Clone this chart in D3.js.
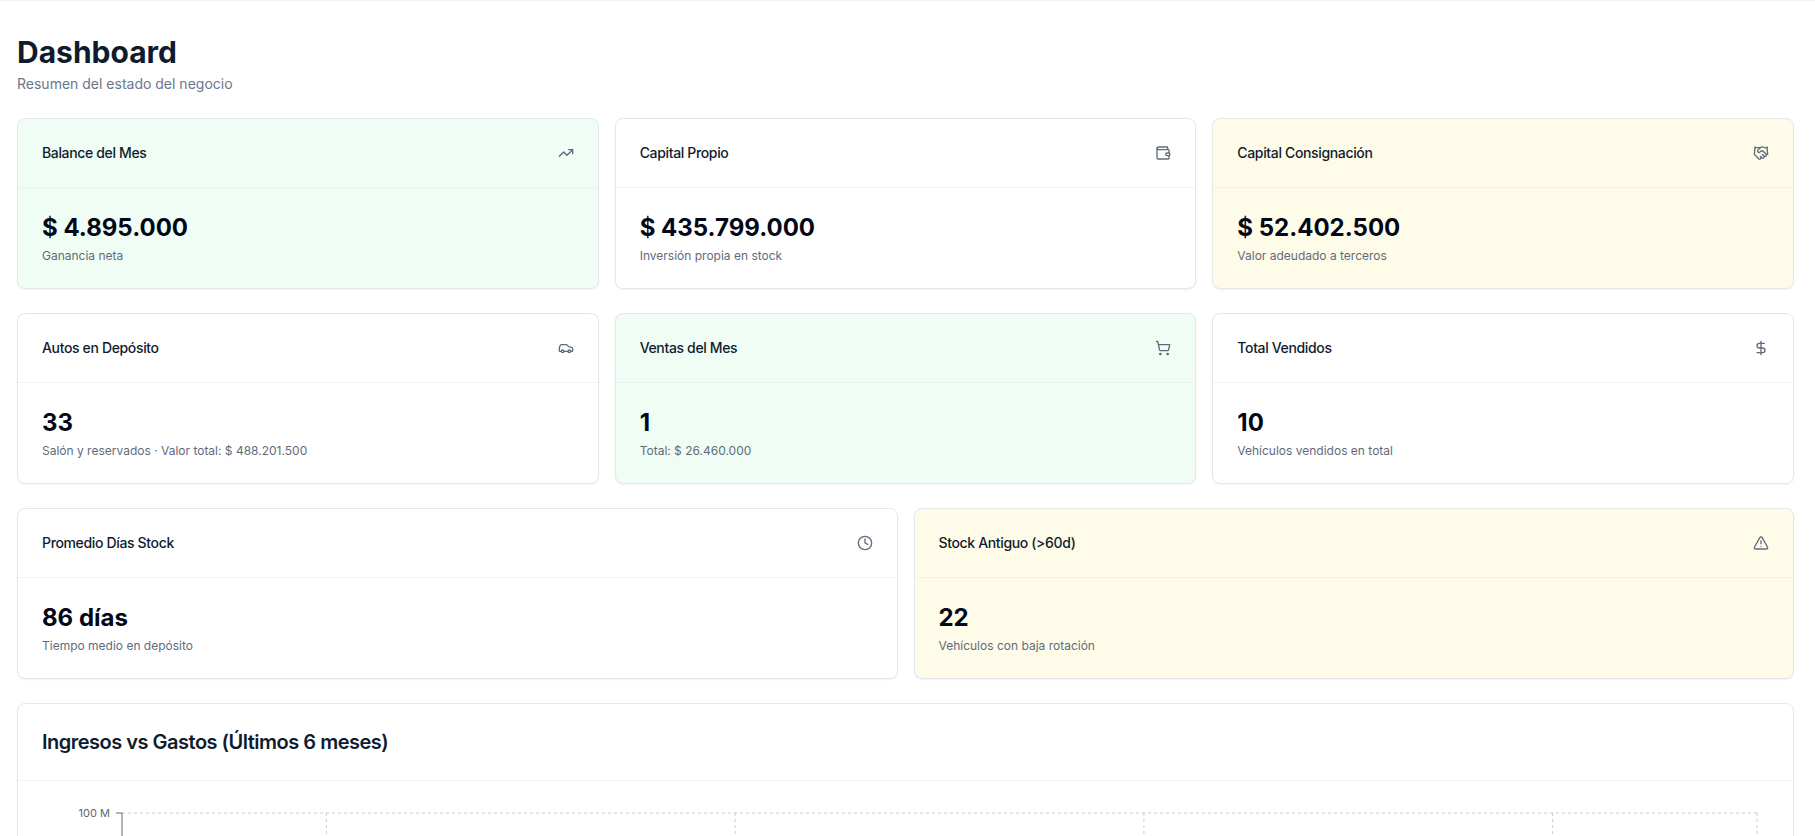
<!DOCTYPE html>
<html lang="es">
<head>
<meta charset="utf-8">
<title>Dashboard</title>
<script src="https://cdn.jsdelivr.net/npm/d3@7"></script>
<style>
  * { box-sizing: border-box; }
  html, body { margin: 0; height: 100%; overflow: hidden; background: #fff; }
  body { font-family: Inter, sans-serif; color: #0f1c2e; border-top: 1px solid #f1f3f5; }
  #page { position: absolute; left: 17px; top: 34px; width: 1777px; }
  h1 { margin: 0; font-size: 30px; line-height: 36px; font-weight: 700; }
  .lead { margin: 4px 0 0; font-size: 14px; line-height: 20px; color: #68778a; }
  .row { display: grid; gap: 16px; margin-top: 24px; }
  .card { background: #fff; border: 1px solid #e5e7eb; border-radius: 8px; box-shadow: 0 1px 2px rgba(0,0,0,.05); }
  .card.green { background: #f0fdf4; }
  .card.yellow { background: #fefce8; }
  .head { height: 69px; padding: 24px; display: flex; justify-content: space-between; align-items: center; border-bottom: 1px solid rgba(229,231,235,.5); }
  .name { font-size: 14px; line-height: 20px; font-weight: 500; letter-spacing: -0.35px; }
  .head svg { width: 16px; height: 16px; fill: none; stroke: #5f6b7c; stroke-width: 2; stroke-linecap: round; stroke-linejoin: round; }
  .body { padding: 24px; }
  .value { font-size: 24px; line-height: 32px; font-weight: 700; color: #020817; }
  .note { margin-top: 4px; font-size: 12px; line-height: 16px; color: #5f6b7c; }
  .chart-title { font-size: 20px; line-height: 28px; font-weight: 600; letter-spacing: -0.5px; padding: 24px; height: 77px; border-bottom: 1px solid rgba(229,231,235,.5); }
  #chart { display: block; }
</style>
</head>
<body>
<div id="page">
  <h1>Dashboard</h1>
  <p class="lead">Resumen del estado del negocio</p>
  <div id="rows"></div>
  <div class="row" style="grid-template-columns: 1fr">
    <div class="card">
      <div class="chart-title">Ingresos vs Gastos (Últimos 6 meses)</div>
      <svg id="chart" width="1775" height="300"></svg>
    </div>
  </div>
</div>

<script>
// card text, one row of the page per array entry
const cardNames = ["Balance del Mes", "Capital Propio", "Capital Consignación", "Autos en Depósito", "Ventas del Mes", "Total Vendidos", "Promedio Días Stock", "Stock Antiguo (>60d)"];
const cardValues = ["$ 4.895.000", "$ 435.799.000", "$ 52.402.500", "33", "1", "10", "86 días", "22"];
const cardNotes = ["Ganancia neta", "Inversión propia en stock", "Valor adeudado a terceros", "Salón y reservados · Valor total: $ 488.201.500", "Total: $ 26.460.000", "Vehículos vendidos en total", "Tiempo medio en depósito", "Vehículos con baja rotación"];
const cardTones = ["green", "", "yellow", "", "green", "", "", "yellow"];
const cardIcons = ["trending", "wallet", "handshake", "car", "cart", "dollar", "clock", "alert"];
const rowSizes = [3, 3, 2];

// chart: only the top of the plot is on screen, the months and bars are below the fold
const chartBands = [0, 1, 2, 3];
const yTicks = [100];
const yMax = 100;

const iconMarkup = {
  trending: '<polyline points="22 7 13.5 15.5 8.5 10.5 2 17"/><polyline points="16 7 22 7 22 13"/>',
  wallet: '<path d="M19 7V4a1 1 0 0 0-1-1H5a2 2 0 0 0 0 4h15a1 1 0 0 1 1 1v4h-3a2 2 0 0 0 0 4h3a1 1 0 0 0 1-1v-2a1 1 0 0 0-1-1"/><path d="M3 5v14a2 2 0 0 0 2 2h15a1 1 0 0 0 1-1v-4"/>',
  handshake: '<path d="m11 17 2 2a1 1 0 1 0 3-3"/><path d="m14 14 2.5 2.5a1 1 0 1 0 3-3l-3.88-3.88a3 3 0 0 0-4.24 0l-.88.88a1 1 0 1 1-3-3l2.81-2.81a5.79 5.79 0 0 1 7.06-.87l.47.28a2 2 0 0 0 1.42.25L21 4"/><path d="m21 3 1 11h-2"/><path d="M3 3 2 14l6.5 6.5a1 1 0 1 0 3-3"/><path d="M3 4h8"/>',
  car: '<path d="M19 17h2c.6 0 1-.4 1-1v-3c0-.9-.7-1.7-1.5-1.9C18.7 10.6 16 10 16 10s-1.3-1.4-2.2-2.3c-.5-.4-1.1-.7-1.8-.7H5c-.6 0-1.1.4-1.4.9l-1.4 2.9A3.7 3.7 0 0 0 2 12v4c0 .6.4 1 1 1h2"/><circle cx="7" cy="17" r="2"/><path d="M9 17h6"/><circle cx="17" cy="17" r="2"/>',
  cart: '<circle cx="8" cy="21" r="1"/><circle cx="19" cy="21" r="1"/><path d="M2.05 2.05h2l2.66 12.42a2 2 0 0 0 2 1.58h9.78a2 2 0 0 0 1.95-1.57l1.65-7.43H5.12"/>',
  dollar: '<line x1="12" x2="12" y1="2" y2="22"/><path d="M17 5H9.5a3.5 3.5 0 0 0 0 7h5a3.5 3.5 0 0 1 0 7H6"/>',
  clock: '<circle cx="12" cy="12" r="10"/><polyline points="12 6 12 12 16 14"/>',
  alert: '<path d="m21.73 18-8-14a2 2 0 0 0-3.48 0l-8 14A2 2 0 0 0 4 21h16a2 2 0 0 0 1.73-3"/><path d="M12 9v4"/><path d="M12 17h.01"/>'
};

// build the card rows
const cards = cardNames.map((name, i) => ({
  name: name, value: cardValues[i], note: cardNotes[i], tone: cardTones[i], icon: cardIcons[i]
}));

let start = 0;
rowSizes.forEach(function(size) {
  const row = d3.select("#rows").append("div")
    .attr("class", "row")
    .style("grid-template-columns", "repeat(" + size + ", 1fr)");

  const card = row.selectAll(".card")
    .data(cards.slice(start, start + size))
    .join("div")
    .attr("class", d => "card " + d.tone);

  const head = card.append("div").attr("class", "head");
  head.append("div").attr("class", "name").text(d => d.name);
  head.append("svg").attr("viewBox", "0 0 24 24").html(d => iconMarkup[d.icon]);

  const body = card.append("div").attr("class", "body");
  body.append("div").attr("class", "value").text(d => d.value);
  body.append("div").attr("class", "note").text(d => d.note);

  start += size;
});

// chart
const svg = d3.select("#chart");
const margin = {left: 104, top: 32, right: 36};
const plotRight = +svg.attr("width") - margin.right;
const plotBottom = +svg.attr("height");

const x = d3.scaleBand().domain(chartBands).range([margin.left, plotRight]);
const y = d3.scaleLinear().domain([0, yMax]).range([plotBottom, margin.top]);

const grid = svg.append("g")
  .attr("fill", "none")
  .attr("stroke", "#ccc")
  .attr("stroke-dasharray", "3 3");

grid.selectAll("line.h")
  .data(yTicks)
  .join("line")
  .attr("class", "h")
  .attr("x1", margin.left)
  .attr("x2", plotRight)
  .attr("y1", d => y(d))
  .attr("y2", d => y(d));

grid.selectAll("line.v")
  .data(chartBands)
  .join("line")
  .attr("class", "v")
  .attr("x1", d => x(d) + x.bandwidth() / 2)
  .attr("x2", d => x(d) + x.bandwidth() / 2)
  .attr("y1", margin.top)
  .attr("y2", plotBottom);

grid.append("line")
  .attr("x1", plotRight)
  .attr("x2", plotRight)
  .attr("y1", margin.top)
  .attr("y2", plotBottom);

const yAxis = d3.axisLeft(y)
  .tickValues(yTicks)
  .tickSize(6)
  .tickSizeOuter(0)
  .tickPadding(6)
  .offset(0)
  .tickFormat(d => d + " M");

const axisG = svg.append("g")
  .attr("transform", "translate(" + margin.left + ",0)")
  .call(yAxis);

axisG.selectAll("line, path").attr("stroke", "#666");
axisG.selectAll("text")
  .attr("fill", "#666")
  .style("font-family", "Inter, sans-serif")
  .style("font-size", "11px");
</script>
</body>
</html>
